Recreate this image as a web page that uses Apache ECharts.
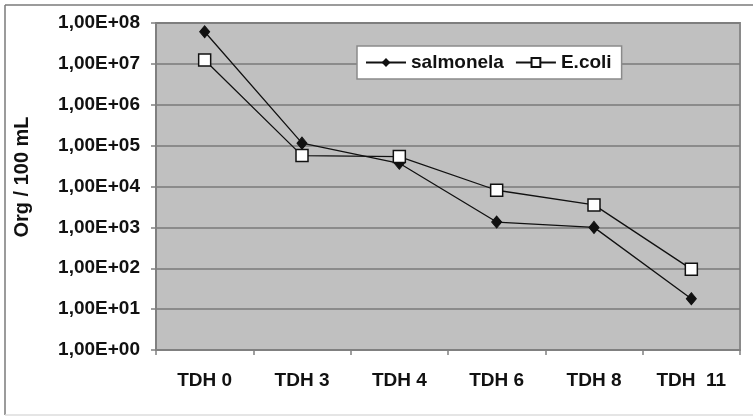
<!DOCTYPE html>
<html>
<head>
<meta charset="utf-8">
<script src="https://cdn.jsdelivr.net/npm/echarts@6/dist/echarts.min.js"></script>
<style>html,body{margin:0;padding:0;background:#fff}#c{width:753px;height:418px}</style>
</head>
<body>
<div id="c"></div>
<script>
const categories = ['TDH 0', 'TDH 3', 'TDH 4', 'TDH 6', 'TDH 8', 'TDH  11'];
const salmonela = [6.1e7, 1.15e5, 3.7e4, 1.35e3, 1.0e3, 18];
const ecoli = [1.24e7, 5.7e4, 5.4e4, 8.1e3, 3.55e3, 95];
const yName = 'Org / 100 mL';

const FONT = '"Liberation Sans", Arial, sans-serif';
const chart = echarts.init(document.getElementById('c'));
chart.setOption({
  animation: false,
  backgroundColor: '#fff',
  textStyle: { fontFamily: FONT },
  grid: { left: 156, right: 13, top: 23, bottom: 68, show: true, backgroundColor: '#c0c0c0', borderColor: '#8a8a8a', borderWidth: 2 },
  legend: {
    left: 357, top: 46, orient: 'horizontal',
    backgroundColor: '#fff', borderColor: '#8a8a8a', borderWidth: 1.5,
    padding: [7, 10, 7, 8], itemGap: 11, itemWidth: 40, itemHeight: 11,
    textStyle: { fontFamily: FONT, fontWeight: 'bold', fontSize: 19, color: '#111' },
    data: ['salmonela', 'E.coli']
  },
  xAxis: {
    type: 'category', data: categories, boundaryGap: true,
    axisLine: { lineStyle: { color: '#808080', width: 2 } },
    axisTick: { show: true, length: 5, lineStyle: { color: '#808080', width: 1.5 } },
    axisLabel: { fontFamily: FONT, fontWeight: 'bold', fontSize: 19, color: '#111', margin: 21 },
    splitLine: { show: false }
  },
  yAxis: {
    type: 'log', logBase: 10, min: 1, max: 1e8, interval: 1,
    axisLine: { show: true, lineStyle: { color: '#808080', width: 2 } },
    axisTick: { show: true, length: 5, lineStyle: { color: '#808080', width: 1.5 } },
    axisLabel: {
      fontFamily: FONT, fontWeight: 'bold', fontSize: 19, color: '#111', margin: 16,
      formatter: function (v) { const e = Math.round(Math.log10(v)); return '1,00E+' + (e < 10 ? '0' : '') + e; }
    },
    splitLine: { show: true, lineStyle: { color: '#7a7a7a', width: 1.5 } },
    minorTick: { show: false }
  },
  graphic: [
    { type: 'line', shape: { x1: 5, y1: 5, x2: 753, y2: 5 }, style: { stroke: '#7a7a7a', lineWidth: 1.5 } },
    { type: 'line', shape: { x1: 5, y1: 5, x2: 5, y2: 415 }, style: { stroke: '#7a7a7a', lineWidth: 1.5 } },
    { type: 'line', shape: { x1: 5, y1: 415, x2: 753, y2: 415 }, style: { stroke: '#dcdcdc', lineWidth: 1.5 } },
    { type: 'text', x: 22, y: 177, rotation: Math.PI / 2,
      style: { text: yName, font: 'bold 20px ' + FONT, fill: '#111', textAlign: 'center', textVerticalAlign: 'middle' } }
  ],
  series: [
    { name: 'salmonela', type: 'line', data: salmonela, symbol: 'diamond', symbolSize: [10, 12],
      lineStyle: { color: '#111', width: 1.3 }, itemStyle: { color: '#111', borderColor: '#111' } },
    { name: 'E.coli', type: 'line', data: ecoli, symbol: 'rect', symbolSize: 12,
      lineStyle: { color: '#111', width: 1.3 }, itemStyle: { color: '#fff', borderColor: '#111', borderWidth: 1.5 } }
  ]
});
</script>
</body>
</html>
